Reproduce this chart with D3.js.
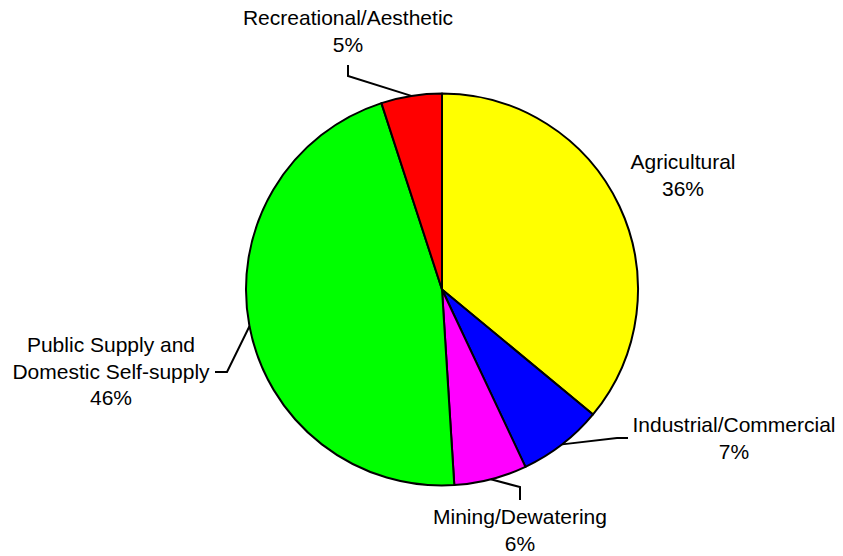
<!DOCTYPE html>
<html>
<head>
<meta charset="utf-8">
<script src="https://cdn.jsdelivr.net/npm/d3@7"></script>
<style>
  html, body { margin: 0; padding: 0; background: #fff; }
  svg { display: block; }
  text { font-family: "Liberation Sans", Arial, sans-serif; font-size: 21px; fill: #000; }
</style>
</head>
<body>
<svg id="chart" width="843" height="556"></svg>
<script>
// Water use by category (percent of total)
const categories = ["Agricultural", "Industrial/Commercial", "Mining/Dewatering", "Public Supply and Domestic Self-supply", "Recreational/Aesthetic"];
const values = [36, 7, 6, 46, 5];
const labelLines = [
  ["Agricultural"],
  ["Industrial/Commercial"],
  ["Mining/Dewatering"],
  ["Public Supply and", "Domestic Self-supply"],
  ["Recreational/Aesthetic"]
];
const colors = ["#ffff00", "#0000ff", "#ff00ff", "#00ff00", "#ff0000"];

// Label placement: text center x, first baseline y, and leader-line elbow/end points
const labelLayout = [
  { x: 683, y: 169, leader: null },
  { x: 734, y: 432, leader: [[617, 438], [628, 438]] },
  { x: 520, y: 524, leader: [[520, 487], [520, 500]] },
  { x: 111, y: 352, leader: [[227, 372], [215, 372]] },
  { x: 348, y: 25, leader: [[348, 76], [348, 65]] }
];
const lineHeight = 26.5;

const svg = d3.select("#chart");
const cx = 442, cy = 289.5, radius = 196;

const data = categories.map((c, i) => ({ category: c, value: values[i], color: colors[i], lines: labelLines[i], layout: labelLayout[i] }));

const pie = d3.pie().value(d => d.value).sort(null);
const arcs = pie(data);
const arc = d3.arc().innerRadius(0).outerRadius(radius);

const g = svg.append("g").attr("transform", `translate(${cx},${cy})`);

g.selectAll("path.slice")
  .data(arcs)
  .join("path")
  .attr("class", "slice")
  .attr("d", arc)
  .attr("fill", d => d.data.color)
  .attr("stroke", "#000")
  .attr("stroke-width", 2)
  .attr("stroke-linejoin", "round");

// Leader lines from the slice rim to the labels
arcs.forEach(a => {
  const lay = a.data.layout;
  if (!lay.leader) return;
  const mid = (a.startAngle + a.endAngle) / 2;
  const start = [cx + radius * Math.sin(mid), cy - radius * Math.cos(mid)];
  const pts = [start, ...lay.leader];
  svg.append("path")
    .attr("d", d3.line()(pts))
    .attr("fill", "none")
    .attr("stroke", "#000")
    .attr("stroke-width", 2);
});

// Category names with percentages
arcs.forEach(a => {
  const lay = a.data.layout;
  const lines = [...a.data.lines, a.data.value + "%"];
  const t = svg.append("text").attr("text-anchor", "middle");
  lines.forEach((ln, i) => {
    t.append("tspan").attr("x", lay.x).attr("y", lay.y + i * lineHeight).text(ln);
  });
});
</script>
</body>
</html>
